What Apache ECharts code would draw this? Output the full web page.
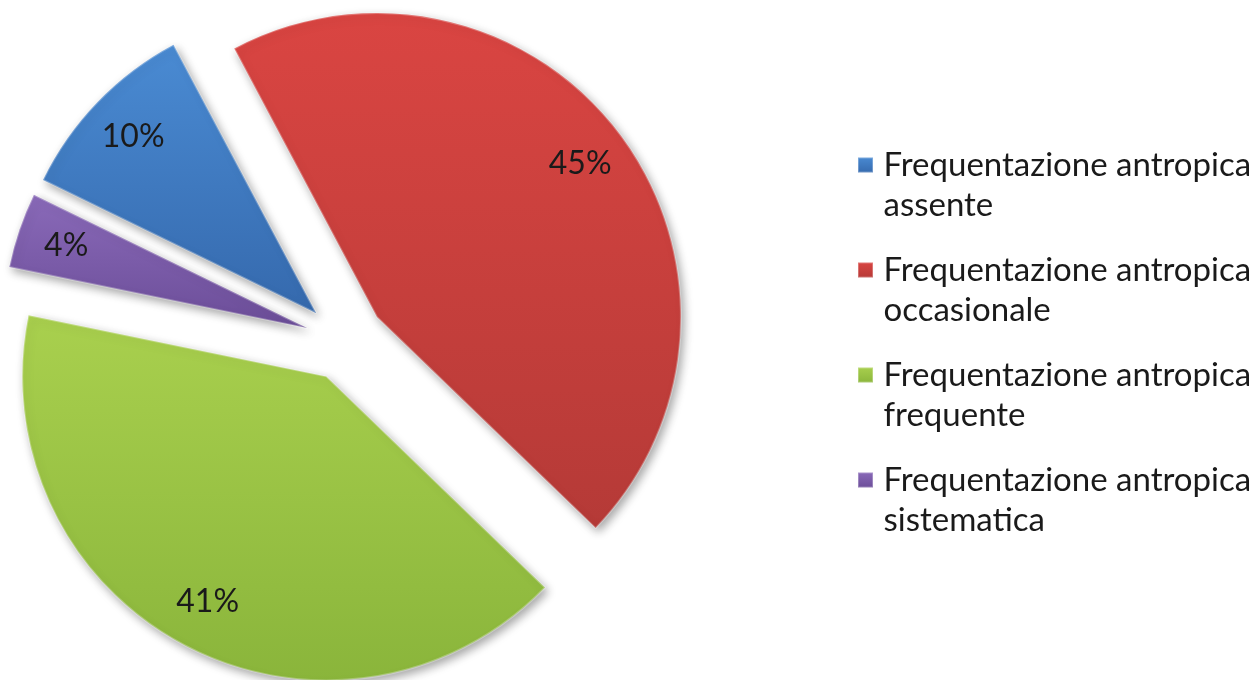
<!DOCTYPE html>
<html>
<head>
<meta charset="utf-8">
<script src="https://cdn.jsdelivr.net/npm/echarts@6/dist/echarts.min.js"></script>
<style>
html,body{margin:0;padding:0;background:#fff;}
#chart{width:1259px;height:680px;}
</style>
</head>
<body>
<div id="chart"></div>
<script>
const categories = [
  'Frequentazione antropica assente',
  'Frequentazione antropica occasionale',
  'Frequentazione antropica frequente',
  'Frequentazione antropica sistematica'
];
const values = [10, 45, 41, 4];
const colorsTop = ['#4a8bd3', '#da4542', '#a9d04e', '#8a6ab9'];
const colorsBottom = ['#3569ad', '#b53a37', '#8ab53b', '#6b4d98'];

const FONT = 'Lato';
const PIE_CENTER = [345, 341];
const PIE_R = 304;
const OFFSET = 40;
const START = 154;

function grad(i) {
  return new echarts.graphic.LinearGradient(0, 0, 0, 1, [
    { offset: 0, color: colorsTop[i] },
    { offset: 1, color: colorsBottom[i] }
  ]);
}

const mainData = categories.map((n, i) => ({
  name: n, value: values[i], selected: true,
  itemStyle: { color: grad(i), borderColor: 'rgba(255,255,255,0.28)', borderWidth: 2,
    shadowBlur: 10, shadowColor: 'rgba(0,0,0,0.35)', shadowOffsetX: 3, shadowOffsetY: 4 }
}));
const labelData = categories.map((n, i) => ({
  name: n, value: values[i], selected: true,
  itemStyle: { color: 'rgba(0,0,0,0)' }
}));

const chart = echarts.init(document.getElementById('chart'), null, { renderer: 'canvas' });
chart.setOption({
  animation: false,
  backgroundColor: '#ffffff',
  legend: {
    orient: 'vertical',
    left: 852,
    top: 100,
    itemWidth: 26,
    itemHeight: 15,
    itemGap: -15,
    icon: 'path://M0,0h15v15h-15z',
    symbolKeepAspect: true,
    selectedMode: false,
    formatter: n => '\n' + n.replace('antropica ', 'antropica\n'),
    textStyle: { fontFamily: FONT, fontSize: 33, lineHeight: 40, color: '#1a1a1a' },
    data: categories.map((n, i) => ({ name: n, itemStyle: { color: grad(i) } }))
  },
  series: [
    {
      type: 'pie',
      center: PIE_CENTER,
      radius: [0, PIE_R],
      startAngle: START,
      clockwise: true,
      selectedMode: 'multiple',
      selectedOffset: OFFSET,
      silent: true,
      label: { show: false },
      labelLine: { show: false },
      emphasis: { disabled: true },
      data: mainData
    },
    {
      type: 'pie',
      center: PIE_CENTER,
      radius: [199, PIE_R],
      startAngle: START,
      clockwise: true,
      selectedMode: 'multiple',
      selectedOffset: OFFSET,
      silent: true,
      legendHoverLink: false,
      label: { show: true, position: 'inside', formatter: '{c}%', fontFamily: FONT, fontSize: 32, color: '#1a1a1a' },
      labelLine: { show: false },
      emphasis: { disabled: true },
      data: labelData
    }
  ]
});
</script>
</body>
</html>
